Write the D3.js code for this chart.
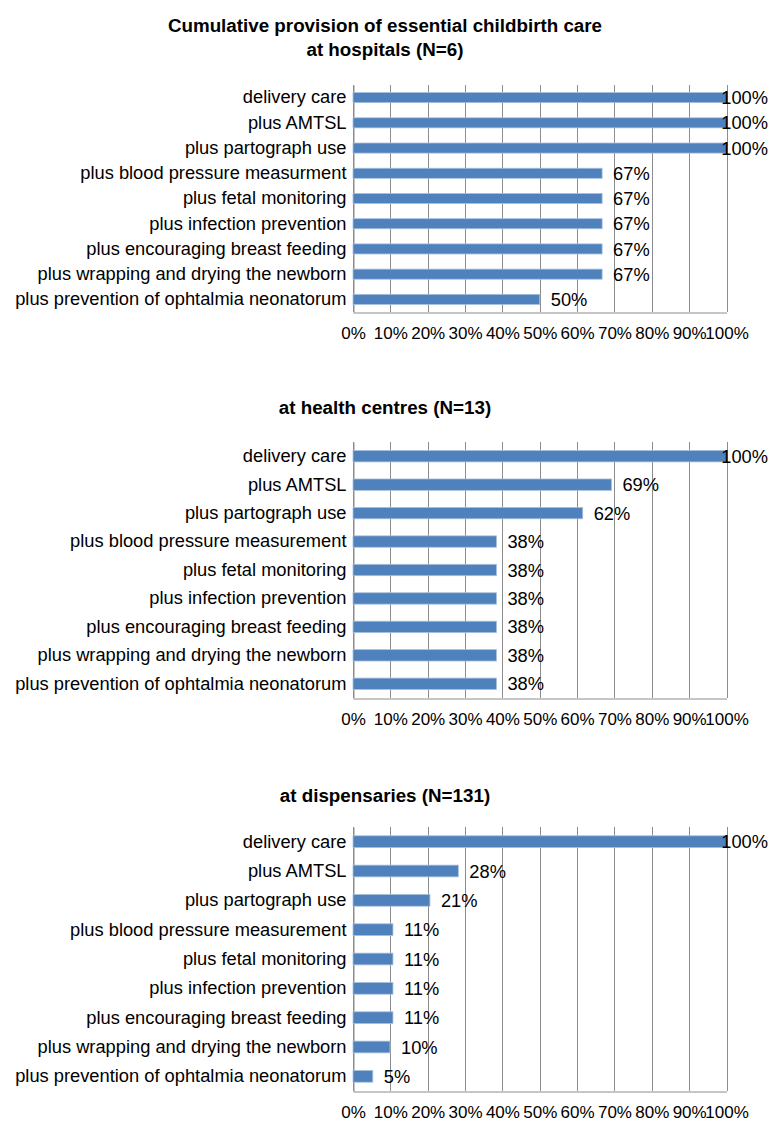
<!DOCTYPE html>
<html>
<head>
<meta charset="utf-8">
<script src="https://cdn.jsdelivr.net/npm/d3@7"></script>
<style>
  body { margin: 0; background: #fff; }
  svg text { font-family: "Liberation Sans", Arial, Helvetica, sans-serif; fill: #000; }
</style>
</head>
<body>
<svg id="chart"></svg>
<script>
// data (percent)
var hospitalCategories = ["delivery care", "plus AMTSL", "plus partograph use",
    "plus blood pressure measurment", "plus fetal monitoring", "plus infection prevention",
    "plus encouraging breast feeding", "plus wrapping and drying the newborn",
    "plus prevention of ophtalmia neonatorum"];
var categories = ["delivery care", "plus AMTSL", "plus partograph use",
    "plus blood pressure measurement", "plus fetal monitoring", "plus infection prevention",
    "plus encouraging breast feeding", "plus wrapping and drying the newborn",
    "plus prevention of ophtalmia neonatorum"];
var hospitalValues = [100, 100, 100, 66.7, 66.7, 66.7, 66.7, 66.7, 50];
var healthCentreValues = [100, 69.2, 61.5, 38.4, 38.4, 38.4, 38.4, 38.4, 38.4];
var dispensaryValues = [100, 28.2, 20.6, 10.7, 10.7, 10.7, 10.7, 9.9, 5.3];
var tickValues = [0, 10, 20, 30, 40, 50, 60, 70, 80, 90, 100];

var width = 769, height = 1123;
var svg = d3.select("#chart")
    .attr("width", width)
    .attr("height", height);

var x = d3.scaleLinear().domain([0, 100]).range([353, 726.5]);
var fmt = function(v) { return Math.round(v) + "%"; };
var labelSize = "18.3px";

// layout of the three panels
var panels = [
    {titles: ["Cumulative provision of essential childbirth care", "at hospitals (N=6)"],
     titleY: [25, 49], top: 85, bottom: 312, cats: hospitalCategories, values: hospitalValues},
    {titles: ["at health centres (N=13)"], titleY: [407], top: 442, bottom: 698,
     cats: categories, values: healthCentreValues},
    {titles: ["at dispensaries (N=131)"], titleY: [795], top: 827, bottom: 1091,
     cats: categories, values: dispensaryValues}
];

panels.forEach(function(p) {
    var g = svg.append("g");

    g.selectAll(".title")
        .data(p.titles)
        .enter()
        .append("text")
        .attr("class", "title")
        .attr("x", 385)
        .attr("y", function(d, i) { return p.titleY[i]; })
        .attr("dy", "0.35em")
        .attr("text-anchor", "middle")
        .style("font-size", "18.8px")
        .style("font-weight", "bold")
        .text(function(d) { return d; });

    var y = d3.scaleBand()
        .domain(p.cats)
        .range([p.top, p.bottom])
        .paddingInner(0.6)
        .paddingOuter(0.3);

    // grid lines
    g.selectAll(".grid")
        .data(tickValues)
        .enter()
        .append("line")
        .attr("x1", function(d) { return Math.round(x(d)) + 0.5; })
        .attr("x2", function(d) { return Math.round(x(d)) + 0.5; })
        .attr("y1", p.top)
        .attr("y2", p.bottom)
        .attr("stroke", "#8c8c8c")
        .attr("stroke-width", 1);

    // bottom axis
    var xAxis = d3.axisBottom(x)
        .tickValues(tickValues)
        .tickFormat(function(d) { return d + "%"; })
        .tickSize(0)
        .tickPadding(14);
    var ax = g.append("g")
        .attr("transform", "translate(0," + (Math.round(p.bottom) + 0.5) + ")")
        .call(xAxis);
    ax.select(".domain").attr("stroke", "#8c8c8c");
    ax.selectAll("text")
        .style("font-size", "17px")
        .attr("fill", "#000");

    // left axis
    var yAxis = d3.axisLeft(y).tickSize(0).tickPadding(7);
    var ay = g.append("g")
        .attr("transform", "translate(" + (Math.round(x(0)) + 0.5) + ",0)")
        .call(yAxis);
    ay.select(".domain").attr("stroke", "#8c8c8c");
    ay.selectAll("text")
        .style("font-size", labelSize)
        .attr("fill", "#000");

    // bars
    g.selectAll(".bar")
        .data(p.values)
        .enter()
        .append("rect")
        .attr("class", "bar")
        .attr("x", x(0))
        .attr("y", function(d, i) { return y(p.cats[i]); })
        .attr("width", function(d) { return x(d) - x(0); })
        .attr("height", y.bandwidth())
        .attr("fill", "#4f81bd")
        .attr("stroke", "#a7c0de")
        .attr("stroke-width", 0.8);

    // value labels, pushed back inside the page when they would run off
    g.selectAll(".val")
        .data(p.values)
        .enter()
        .append("text")
        .attr("class", "val")
        .attr("x", function(d) { return x(d) + 11; })
        .attr("y", function(d, i) { return y(p.cats[i]) + y.bandwidth() / 2; })
        .attr("dy", "0.36em")
        .style("font-size", labelSize)
        .text(fmt)
        .each(function(d) {
            var len = this.getComputedTextLength();
            if (x(d) + 11 + len > width - 1) {
                d3.select(this).attr("x", width - 1 - len);
            }
        });
});
</script>
</body>
</html>
